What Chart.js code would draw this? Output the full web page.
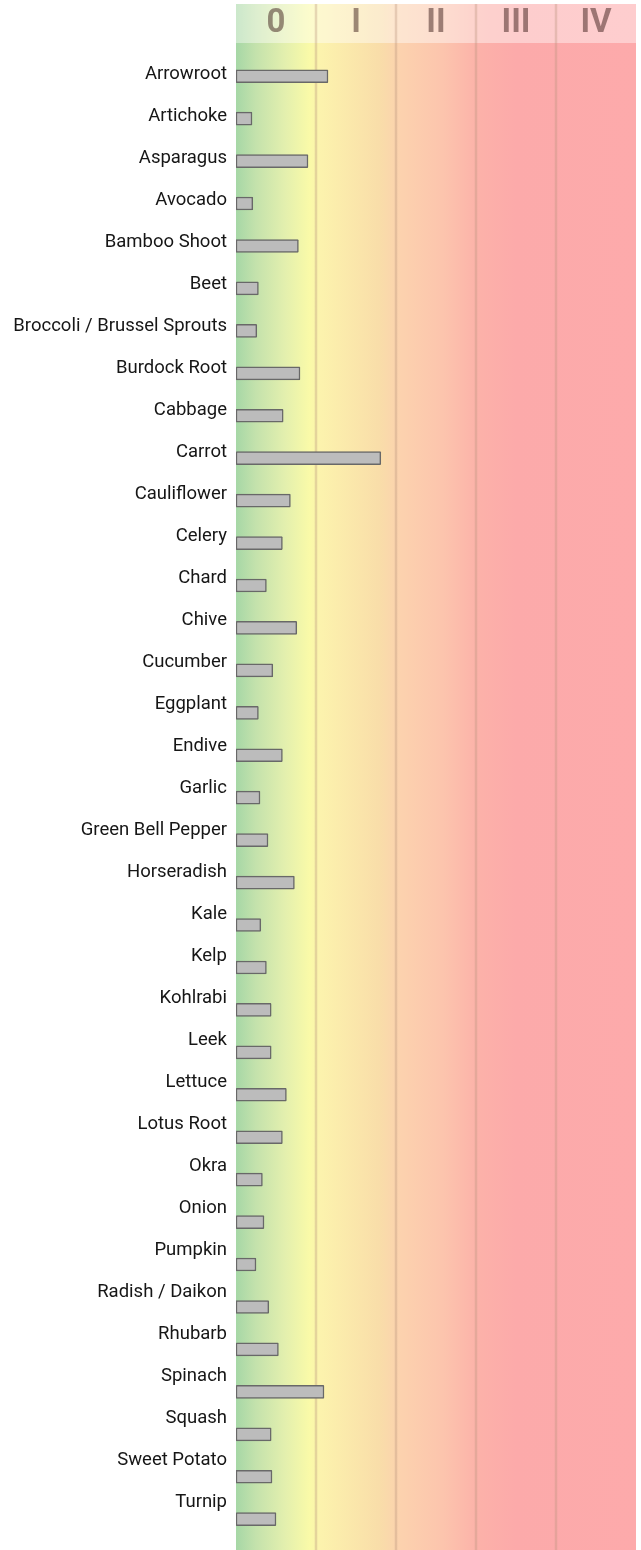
<!DOCTYPE html>
<html>
<head>
<meta charset="utf-8">
<script src="https://cdn.jsdelivr.net/npm/chart.js@4/dist/chart.umd.min.js"></script>
<style>
  html, body { margin: 0; padding: 0; background: #ffffff; overflow: hidden; }
  #wrap { position: relative; width: 641px; height: 1550px; }
</style>
</head>
<body>
<div id="wrap"><canvas id="c"></canvas></div>
<script>
// ---- data ----
const categories = [
  'Arrowroot', 'Artichoke', 'Asparagus', 'Avocado', 'Bamboo Shoot', 'Beet',
  'Broccoli / Brussel Sprouts', 'Burdock Root', 'Cabbage', 'Carrot', 'Cauliflower',
  'Celery', 'Chard', 'Chive', 'Cucumber', 'Eggplant', 'Endive', 'Garlic',
  'Green Bell Pepper', 'Horseradish', 'Kale', 'Kelp', 'Kohlrabi', 'Leek', 'Lettuce',
  'Lotus Root', 'Okra', 'Onion', 'Pumpkin', 'Radish / Daikon', 'Rhubarb', 'Spinach',
  'Squash', 'Sweet Potato', 'Turnip'
];
const values = [
  1.15, 0.20, 0.90, 0.21, 0.78, 0.28,
  0.26, 0.80, 0.59, 1.81, 0.68,
  0.58, 0.38, 0.76, 0.46, 0.28, 0.58, 0.30,
  0.40, 0.73, 0.31, 0.38, 0.44, 0.44, 0.63,
  0.58, 0.33, 0.35, 0.25, 0.41, 0.53, 1.10,
  0.44, 0.45, 0.50
];
const bandLabels = ['0', 'I', 'II', 'III', 'IV'];
const bandCenters = [0.5, 1.5, 2.5, 3.5, 4.5];
const bandEdges = [1, 2, 3, 4];

// ---- background plugin ----
const bgPlugin = {
  id: 'bands',
  beforeDraw(chart) {
    const ctx = chart.ctx;
    const xs = chart.scales.x;
    const left = xs.getPixelForValue(0);
    const right = xs.getPixelForValue(5);
    const top = 4;
    const bottom = chart.height;
    const w = right - left;
    ctx.save();
    const g = ctx.createLinearGradient(left, 0, right, 0);
    g.addColorStop(0.00, '#a6d7a6');
    g.addColorStop(0.05, '#c4e2ac');
    g.addColorStop(0.12, '#e2efae');
    g.addColorStop(0.185, '#fafaa8');
    g.addColorStop(0.21, '#fcf3ad');
    g.addColorStop(0.36, '#f9dda9');
    g.addColorStop(0.41, '#fcd2ae');
    g.addColorStop(0.52, '#fcc4ad');
    g.addColorStop(0.61, '#fcb1a9');
    g.addColorStop(0.70, '#fcaaaa');
    g.addColorStop(1.00, '#fdaaab');
    ctx.fillStyle = g;
    ctx.fillRect(left, top, w, bottom - top);
    // lighter header band
    ctx.fillStyle = 'rgba(255,255,255,0.42)';
    ctx.fillRect(left, top, w, 39);
    // band separators
    ctx.strokeStyle = 'rgba(185,150,125,0.35)';
    ctx.lineWidth = 2.5;
    bandEdges.forEach(v => {
      const px = Math.round(xs.getPixelForValue(v));
      ctx.beginPath();
      ctx.moveTo(px, top);
      ctx.lineTo(px, bottom);
      ctx.stroke();
    });
    ctx.restore();
  }
};

const ctx = document.getElementById('c').getContext('2d');
new Chart(ctx, {
  type: 'bar',
  data: {
    labels: categories,
    datasets: [{
      data: values,
      xAxisID: 'x',
      yAxisID: 'y',
      backgroundColor: '#bcbcbc',
      borderColor: '#686868',
      borderWidth: 1.5,
      borderSkipped: false,
      borderRadius: 1,
      barThickness: 13
    }]
  },
  options: {
    indexAxis: 'y',
    responsive: true,
    maintainAspectRatio: false,
    animation: false,
    layout: { padding: { top: 4, right: 5, bottom: 9.6, left: 0 } },
    plugins: { legend: { display: false }, tooltip: { enabled: false }, title: { display: false } },
    scales: {
      x: { type: 'linear', min: 0, max: 5, display: false },
      xTop: {
        type: 'linear', position: 'top', min: 0, max: 5, offset: false,
        grid: { display: false, drawTicks: false, tickLength: 0 },
        border: { display: false },
        afterBuildTicks(scale) { scale.ticks = bandCenters.map(v => ({ value: v })); },
        afterFit(scale) { scale.height = 51; scale.paddingLeft = 0; scale.paddingRight = 0; },
        ticks: {
          autoSkip: false, maxRotation: 0, minRotation: 0, padding: 15,
          color: 'rgba(60,30,25,0.5)',
          font: { family: 'Roboto', size: 33, weight: 'bold', lineHeight: 1 },
          callback(v) { const i = bandCenters.indexOf(v); return i >= 0 ? bandLabels[i] : ''; }
        }
      },
      y: { type: 'category', display: false, offset: true },
      yL: {
        type: 'linear', position: 'left', reverse: true, offset: false,
        min: -0.4524, max: 34.914,
        grid: { display: false, drawTicks: false, tickLength: 0, offset: false },
        border: { display: false },
        afterBuildTicks(scale) { scale.ticks = categories.map((_, i) => ({ value: i })); },
        afterFit(scale) { scale.width = 236; scale.paddingTop = 0; scale.paddingBottom = 0; },
        ticks: {
          autoSkip: false, padding: 9, color: '#161616',
          font: { family: 'Roboto', size: 18.5 },
          callback(v) { return categories[v] !== undefined ? categories[v] : ''; }
        }
      }
    }
  },
  plugins: [bgPlugin]
});
</script>
</body>
</html>
